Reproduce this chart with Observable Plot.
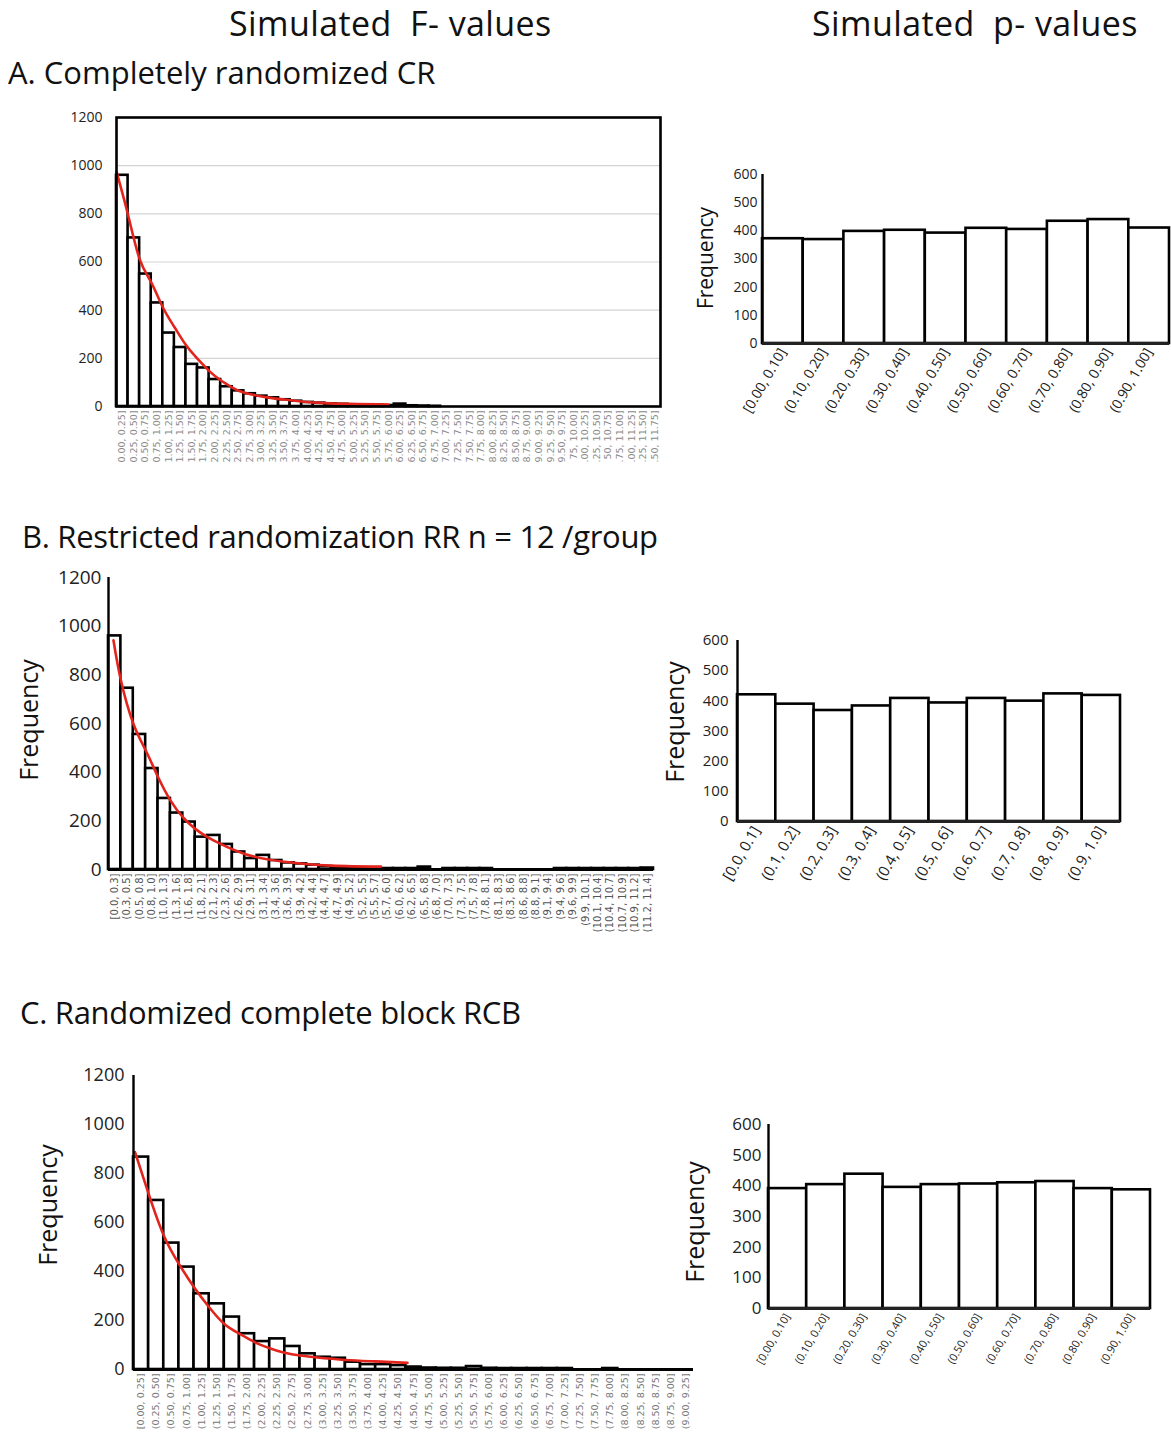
<!DOCTYPE html>
<html><head><meta charset="utf-8">
<script src="https://cdn.jsdelivr.net/npm/d3@7"></script>
<script src="https://cdn.jsdelivr.net/npm/@observablehq/plot@0.6"></script>
<style>
body{margin:0;background:#fff;}
#page{position:relative;width:1171px;height:1432px;overflow:hidden;font-family:"Open Sans",sans-serif;color:#111;background:#fff;}
.t{position:absolute;white-space:pre;line-height:1;}
.ylab{position:absolute;white-space:nowrap;line-height:1;transform:translate(-50%,-50%) rotate(-90deg);}
.panel{position:absolute;}
</style></head><body><div id="page"></div>
<script>
// ---------- Panel A (F values) ----------
const fLabelsA = ["0.00, 0.25]","0.25, 0.50]","0.50, 0.75]","0.75, 1.00]","1.00, 1.25]","1.25, 1.50]","1.50, 1.75]","1.75, 2.00]","2.00, 2.25]","2.25, 2.50]","2.50, 2.75]","2.75, 3.00]","3.00, 3.25]","3.25, 3.50]","3.50, 3.75]","3.75, 4.00]","4.00, 4.25]","4.25, 4.50]","4.50, 4.75]","4.75, 5.00]","5.00, 5.25]","5.25, 5.50]","5.50, 5.75]","5.75, 6.00]","6.00, 6.25]","6.25, 6.50]","6.50, 6.75]","6.75, 7.00]","7.00, 7.25]","7.25, 7.50]","7.50, 7.75]","7.75, 8.00]","8.00, 8.25]","8.25, 8.50]","8.50, 8.75]","8.75, 9.00]","9.00, 9.25]","9.25, 9.50]","9.50, 9.75]","75, 10.00]",".00, 10.25]",".25, 10.50]","50, 10.75]",".75, 11.00]",".00, 11.25]",".25, 11.50]",".50, 11.75]"];
const fCountsA = [960,700,550,430,305,245,175,160,112,82, 65,53,43,36,28,22,17,14,11,9, 7,6,5,4,10,3,2,1,0,0, 0,0,0,0,0,0,0,0,0,0, 0,0,0,0,0,0,0];
const curveAx = [0,1,2,3,4,5,6,7,8,9,10,11,13,15,18,23.5];
const curveAy = [975,795,612,515,412,330,255,198,148,109,79,58,38,26,14,8];

// ---------- Panel B (F values) ----------
const fLabelsB = ["[0.0, 0.3]","(0.3, 0.5]","(0.5, 0.8]","(0.8, 1.0]","(1.0, 1.3]","(1.3, 1.6]","(1.6, 1.8]","(1.8, 2.1]","(2.1, 2.3]","(2.3, 2.6]","(2.6, 2.9]","(2.9, 3.1]","(3.1, 3.4]","(3.4, 3.6]","(3.6, 3.9]","(3.9, 4.2]","(4.2, 4.4]","(4.4, 4.7]","(4.7, 4.9]","(4.9, 5.2]","(5.2, 5.5]","(5.5, 5.7]","(5.7, 6.0]","(6.0, 6.2]","(6.2, 6.5]","(6.5, 6.8]","(6.8, 7.0]","(7.0, 7.3]","(7.3, 7.5]","(7.5, 7.8]","(7.8, 8.1]","(8.1, 8.3]","(8.3, 8.6]","(8.6, 8.8]","(8.8, 9.1]","(9.1, 9.4]","(9.4, 9.6]","(9.6, 9.9]","(9.9, 10.1]","(10.1, 10.4]","(10.4, 10.7]","(10.7, 10.9]","(10.9, 11.2]","(11.2, 11.4]"];
const fCountsB = [960,745,555,415,292,232,195,133,140,103, 72,45,58,37,27,23,18,12,9,7, 5,4,4,4,4,10,0,4,4,4, 4,0,0,0,0,0,4,4,4,4, 4,4,4,6];
const curveBx = [0.4,1,2,3,4,5,6,7,8,9,11,14,18,22];
const curveBy = [942,778,600,490,380,284,215,167,133,106,64,33,16,12];

// ---------- Panel C (F values) ----------
const fLabelsC = ["[0.00, 0.25]","(0.25, 0.50]","(0.50, 0.75]","(0.75, 1.00]","(1.00, 1.25]","(1.25, 1.50]","(1.50, 1.75]","(1.75, 2.00]","(2.00, 2.25]","(2.25, 2.50]","(2.50, 2.75]","(2.75, 3.00]","(3.00, 3.25]","(3.25, 3.50]","(3.50, 3.75]","(3.75, 4.00]","(4.00, 4.25]","(4.25, 4.50]","(4.50, 4.75]","(4.75, 5.00]","(5.00, 5.25]","(5.25, 5.50]","(5.50, 5.75]","(5.75, 6.00]","(6.00, 6.25]","(6.25, 6.50]","(6.50, 6.75]","(6.75, 7.00]","(7.00, 7.25]","(7.25, 7.50]","(7.50, 7.75]","(7.75, 8.00]","(8.00, 8.25]","(8.25, 8.50]","(8.50, 8.75]","(8.75, 9.00]","(9.00, 9.25]"];
const fCountsC = [867,690,516,418,309,268,214,146,114,125, 94,64,50,46,30,20,20,16,10,6, 5,5,12,5,4,4,4,4,4,0, 0,4,0,0,0,0,0];
const curveCx = [0.1,1,2,3,4,5,6,7,8,9,10,11,12,14,16,18.1];
const curveCy = [887,717,547,431,336,254,186,146,112,87,68,57,50,39,33,27];

// ---------- p-value panels ----------
const pLabelsA = ["[0.00, 0.10]","(0.10, 0.20]","(0.20, 0.30]","(0.30, 0.40]","(0.40, 0.50]","(0.50, 0.60]","(0.60, 0.70]","(0.70, 0.80]","(0.80, 0.90]","(0.90, 1.00]"];
const pCountsA = [372,369,398,402,392,409,405,434,440,410];
const pLabelsB = ["[0.0, 0.1]","(0.1, 0.2]","(0.2, 0.3]","(0.3, 0.4]","(0.4, 0.5]","(0.5, 0.6]","(0.6, 0.7]","(0.7, 0.8]","(0.8, 0.9]","(0.9, 1.0]"];
const pCountsB = [420,389,368,383,408,393,408,399,423,418];
const pLabelsC = ["[0.00, 0.10]","(0.10, 0.20]","(0.20, 0.30]","(0.30, 0.40]","(0.40, 0.50]","(0.50, 0.60]","(0.60, 0.70]","(0.70, 0.80]","(0.80, 0.90]","(0.90, 1.00]"];
const pCountsC = [391,404,438,395,404,406,410,414,391,387];

const fTicks = [0,200,400,600,800,1000,1200];
const fGrid = [200,400,600,800,1000];
const pTicks = [0,100,200,300,400,500,600];

const titles = [
  {text:"Simulated  F- values", x:229, y:6, size:34, ls:0.4},
  {text:"Simulated  p- values", x:812, y:6, size:34, ls:0.4},
  {text:"A. Completely randomized CR", x:8, y:57, size:31, ls:0},
  {text:"B. Restricted randomization RR n = 12 /group", x:22, y:521, size:31, ls:-0.3},
  {text:"C. Randomized complete block RCB", x:20, y:997, size:31, ls:-0.3}
];
const yTitles = [
  {text:"Frequency", x:705, y:258, size:21},
  {text:"Frequency", x:28, y:720, size:25},
  {text:"Frequency", x:674, y:722, size:25},
  {text:"Frequency", x:47, y:1205, size:25},
  {text:"Frequency", x:694, y:1222, size:25}
];

const page = document.getElementById("page");

function place(el, left, top) {
  const d = document.createElement("div");
  d.className = "panel";
  d.style.left = left + "px";
  d.style.top = top + "px";
  d.appendChild(el);
  page.appendChild(d);
}

function fPanel(o) {
  const rows = o.labels.map((l, i) => ({x1: i, x2: i + 1, count: o.counts[i]}));
  const curve = o.cx.map((x, i) => ({x, y: o.cy[i]}));
  const centers = o.labels.map((l, i) => i + 0.5);
  const marks = [];
  if (o.grid) marks.push(Plot.gridY(fGrid, {stroke: "#d4d4d4", strokeOpacity: 1, strokeWidth: 1.2}));
  marks.push(Plot.rectY(rows, {x1: "x1", x2: "x2", y: "count", fill: "white", stroke: "black", strokeWidth: 2.6}));
  marks.push(Plot.line(curve, {x: "x", y: "y", stroke: "#e3241d", strokeWidth: 2.6, curve: "natural"}));
  marks.push(Plot.axisY(fTicks, {tickSize: 0, tickPadding: o.yPad, fontSize: o.yFont, color: "#222", label: null, tickFormat: d => String(d)}));
  marks.push(Plot.axisX(centers, {tickSize: 0, tickPadding: 4, tickRotate: -90, fontSize: o.xFont, color: o.xColor, label: null,
    fontFamily: "DejaVu Sans", tickFormat: d => o.labels[Math.round(d - 0.5)]}));
  if (o.frame) {
    marks.push(Plot.frame({stroke: "black", strokeWidth: 2.6}));
  } else {
    marks.push(Plot.ruleX([0], {y1: 0, y2: 1200, stroke: "black", strokeWidth: 2.4}));
    marks.push(Plot.ruleY([0], {stroke: "black", strokeWidth: 3}));
  }
  const chart = Plot.plot({
    width: o.width, height: o.height,
    marginLeft: o.ml, marginRight: o.mr, marginTop: o.mt, marginBottom: o.mb,
    x: {domain: [0, o.labels.length]},
    y: {domain: [0, 1200]},
    style: {fontFamily: "Open Sans", background: "transparent", overflow: "visible"},
    marks
  });
  place(chart, o.left, o.top);
}

function pPanel(o) {
  const rows = o.labels.map((l, i) => ({x1: i, x2: i + 1, count: o.counts[i]}));
  const centers = o.labels.map((l, i) => i + 0.5);
  const chart = Plot.plot({
    width: o.width, height: o.height,
    marginLeft: o.ml, marginRight: o.mr, marginTop: o.mt, marginBottom: o.mb,
    x: {domain: [0, o.labels.length]},
    y: {domain: [0, 600]},
    style: {fontFamily: "Open Sans", background: "transparent", overflow: "visible"},
    marks: [
      Plot.rectY(rows, {x1: "x1", x2: "x2", y: "count", fill: "white", stroke: "black", strokeWidth: 2.6}),
      Plot.axisY(pTicks, {tickSize: 0, tickPadding: o.yPad, fontSize: o.yFont, color: "#222", label: null, tickFormat: d => String(d)}),
      Plot.axisX(centers, {tickSize: 0, tickPadding: o.xPad, tickRotate: -60, fontSize: o.xFont, color: "#222", label: null,
        tickFormat: d => o.labels[Math.round(d - 0.5)]}),
      Plot.ruleX([0], {y1: 0, y2: 600, stroke: "black", strokeWidth: 2.4}),
      Plot.ruleY([0], {stroke: "#222", strokeWidth: 3})
    ]
  });
  place(chart, o.left, o.top);
}

fPanel({labels: fLabelsA, counts: fCountsA, cx: curveAx, cy: curveAy, left: 0, top: 95, width: 680, height: 390,
  ml: 116, mr: 20, mt: 22, mb: 79, yPad: 14, yFont: 14, xFont: 9.5, xColor: "#8a8a8a", frame: true, grid: true});
fPanel({labels: fLabelsB, counts: fCountsB, cx: curveBx, cy: curveBy, left: 0, top: 555, width: 680, height: 390,
  ml: 108, mr: 27, mt: 22, mb: 76, yPad: 7, yFont: 19, xFont: 10, xColor: "#555", frame: false, grid: false});
fPanel({labels: fLabelsC, counts: fCountsC, cx: curveCx, cy: curveCy, left: 0, top: 1053, width: 720, height: 379,
  ml: 133, mr: 27, mt: 22, mb: 63, yPad: 9, yFont: 18, xFont: 9.5, xColor: "#777", frame: false, grid: false});

pPanel({labels: pLabelsA, counts: pCountsA, left: 680, top: 150, width: 491, height: 300,
  ml: 82, mr: 2, mt: 24, mb: 107, yPad: 5, yFont: 14, xFont: 14, xPad: 6});
pPanel({labels: pLabelsB, counts: pCountsB, left: 650, top: 615, width: 480, height: 300,
  ml: 87, mr: 10, mt: 25, mb: 94, yPad: 9, yFont: 15, xFont: 15, xPad: 6});
pPanel({labels: pLabelsC, counts: pCountsC, left: 680, top: 1100, width: 480, height: 332,
  ml: 88, mr: 10, mt: 24, mb: 124, yPad: 7, yFont: 17, xFont: 11, xPad: 6});

for (const t of titles) {
  const d = document.createElement("div");
  d.className = "t";
  d.textContent = t.text;
  d.style.left = t.x + "px";
  d.style.top = t.y + "px";
  d.style.fontSize = t.size + "px";
  d.style.letterSpacing = t.ls + "px";
  page.appendChild(d);
}
for (const t of yTitles) {
  const d = document.createElement("div");
  d.className = "ylab";
  d.textContent = t.text;
  d.style.left = t.x + "px";
  d.style.top = t.y + "px";
  d.style.fontSize = t.size + "px";
  page.appendChild(d);
}
</script></body></html>
